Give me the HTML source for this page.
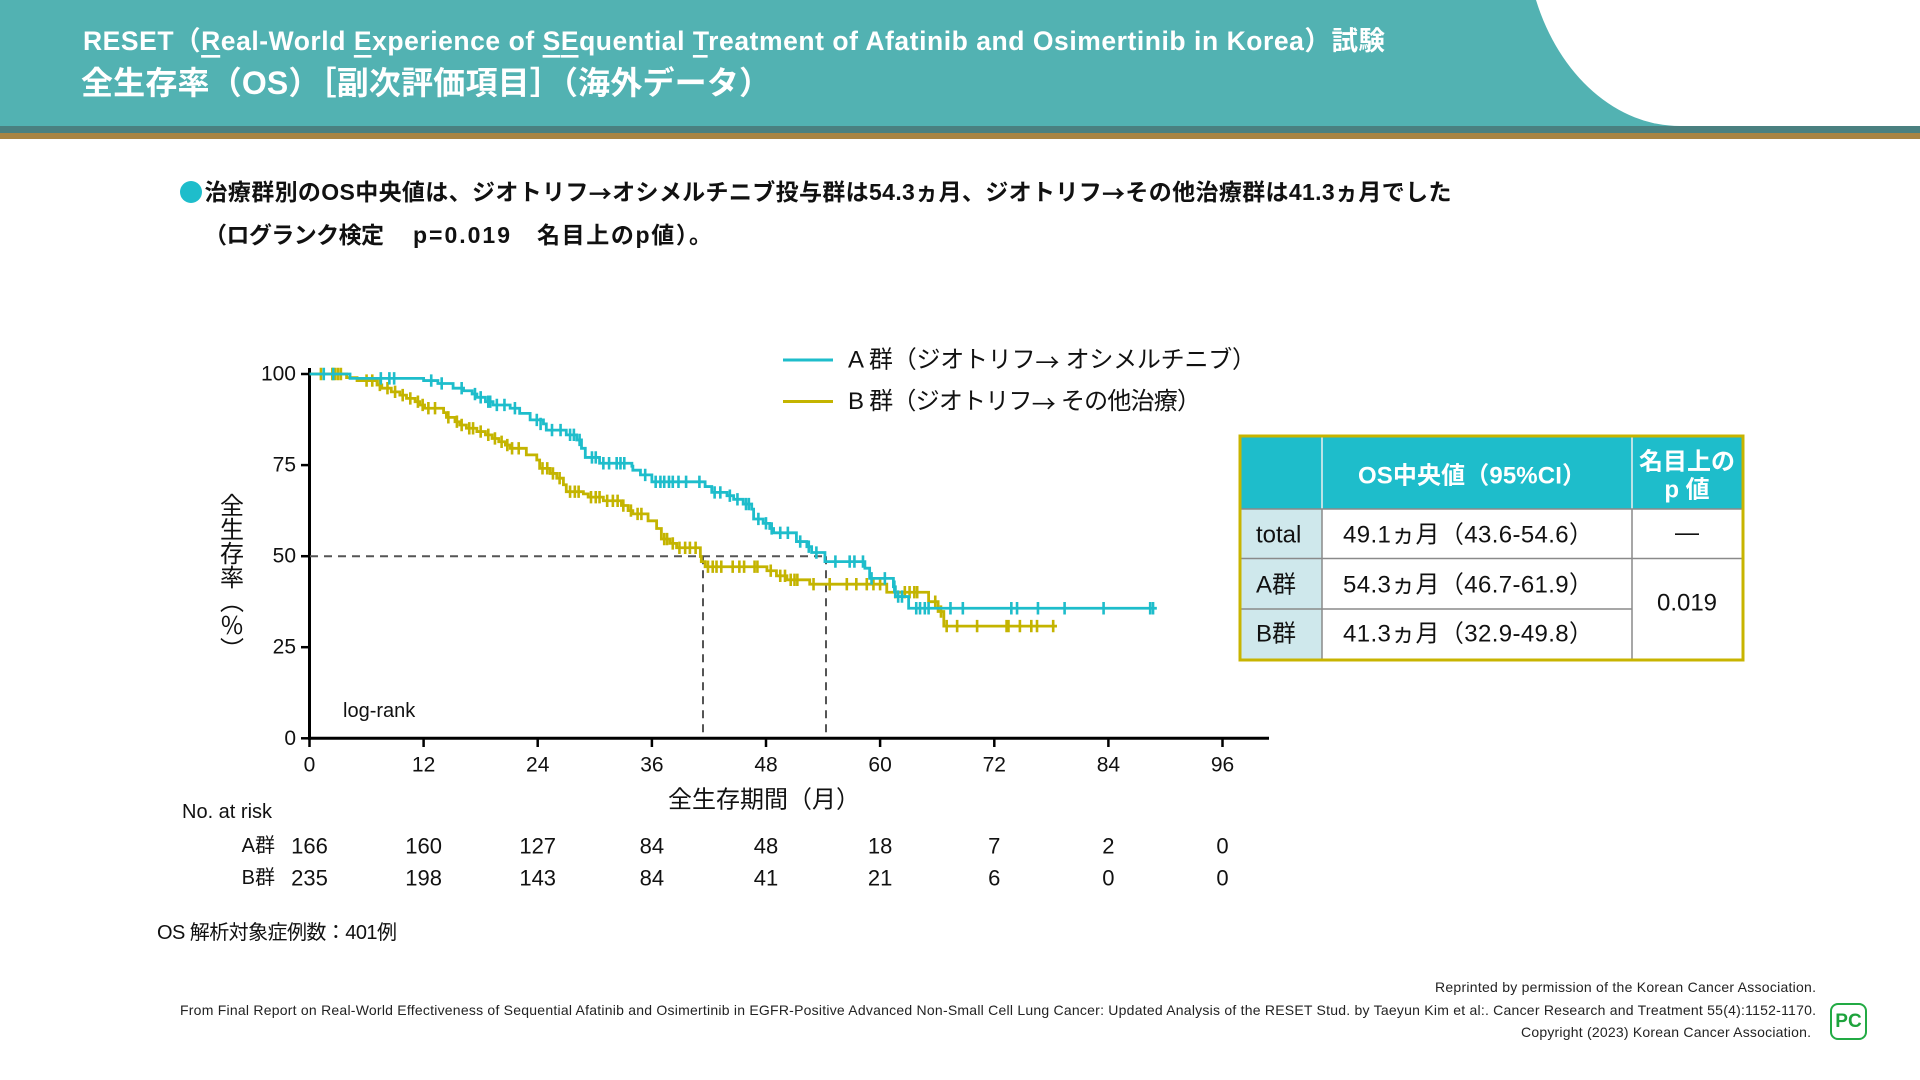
<!DOCTYPE html>
<html><head><meta charset="utf-8"><style>
html,body{margin:0;padding:0;background:#fff;}
svg{display:block;}
text{font-family:"Liberation Sans","Noto Sans CJK JP",sans-serif;}
.cj{font-family:"Noto Sans CJK JP",sans-serif;}
</style></head><body>
<svg width="1920" height="1080" viewBox="0 0 1920 1080" xmlns="http://www.w3.org/2000/svg">
<rect width="1920" height="1080" fill="#fff"/>
<!-- header -->
<rect x="0" y="0" width="1920" height="127" fill="#52B2B2"/>
<path d="M1536,0 A155,200 0 0,0 1680,126 L1920,126 L1920,0 Z" fill="#fff"/>
<rect x="0" y="126" width="1920" height="7" fill="#4A8080"/>
<rect x="0" y="133" width="1920" height="6" fill="#A98443"/>
<text x="83" y="41" font-size="26.5" font-weight="bold" fill="#fff" dominant-baseline="central" textLength="1302" lengthAdjust="spacing">RESET（<tspan style="text-decoration:underline">R</tspan>eal-World <tspan style="text-decoration:underline">E</tspan>xperience of <tspan style="text-decoration:underline">SE</tspan>quential <tspan style="text-decoration:underline">T</tspan>reatment of Afatinib and Osimertinib in Korea）試験</text>
<text x="81" y="83" font-size="32" font-weight="bold" fill="#fff" dominant-baseline="central" textLength="690" lengthAdjust="spacing">全生存率（OS）［副次評価項目］（海外データ）</text>

<!-- bullet text -->
<circle cx="191" cy="192" r="11" fill="#1EBDCB"/>
<text x="204.5" y="192" font-size="23" font-weight="bold" fill="#111" dominant-baseline="central" textLength="1247" lengthAdjust="spacing">治療群別のOS中央値は、ジオトリフ<tspan class="cj">→</tspan>オシメルチニブ投与群は54.3ヵ月、ジオトリフ<tspan class="cj">→</tspan>その他治療群は41.3ヵ月でした</text>
<text x="204" y="235" font-size="23" font-weight="bold" fill="#111" dominant-baseline="central" textLength="180" lengthAdjust="spacing">（ログランク検定</text>
<text x="413" y="235" font-size="23" font-weight="bold" fill="#111" dominant-baseline="central" textLength="97" lengthAdjust="spacing">p=0.019</text>
<text x="537" y="235" font-size="23" font-weight="bold" fill="#111" dominant-baseline="central" textLength="175" lengthAdjust="spacing">名目上のp値）。</text>

<!-- legend -->
<line x1="783" y1="360" x2="833" y2="360" stroke="#1EBDCB" stroke-width="3"/>
<line x1="783" y1="401.5" x2="833" y2="401.5" stroke="#C4B400" stroke-width="3"/>
<text x="848" y="360" font-size="24" fill="#111" dominant-baseline="central" textLength="408" lengthAdjust="spacing">A 群（ジオトリフ<tspan class="cj">→</tspan> オシメルチニブ）</text>
<text x="848" y="401.5" font-size="24" fill="#111" dominant-baseline="central" textLength="353" lengthAdjust="spacing">B 群（ジオトリフ<tspan class="cj">→</tspan> その他治療）</text>

<!-- axes -->
<g stroke="#000" stroke-width="2.5">
<line x1="301" y1="374" x2="309.5" y2="374"/>
<line x1="301" y1="465.1" x2="309.5" y2="465.1"/>
<line x1="301" y1="556.2" x2="309.5" y2="556.2"/>
<line x1="301" y1="647.2" x2="309.5" y2="647.2"/>
<line x1="301" y1="738.3" x2="309.5" y2="738.3"/>
<line x1="309.5" y1="738" x2="309.5" y2="747"/>
<line x1="423.6" y1="738" x2="423.6" y2="747"/>
<line x1="537.7" y1="738" x2="537.7" y2="747"/>
<line x1="651.9" y1="738" x2="651.9" y2="747"/>
<line x1="766" y1="738" x2="766" y2="747"/>
<line x1="880.1" y1="738" x2="880.1" y2="747"/>
<line x1="994.3" y1="738" x2="994.3" y2="747"/>
<line x1="1108.4" y1="738" x2="1108.4" y2="747"/>
<line x1="1222.5" y1="738" x2="1222.5" y2="747"/>
</g>
<line x1="309.5" y1="368" x2="309.5" y2="739.8" stroke="#000" stroke-width="3"/>
<line x1="308" y1="738.3" x2="1269" y2="738.3" stroke="#000" stroke-width="3"/>

<g font-size="21" fill="#111" text-anchor="end" dominant-baseline="central">
<text x="296" y="374">100</text>
<text x="296" y="465.1">75</text>
<text x="296" y="556.2">50</text>
<text x="296" y="647.2">25</text>
<text x="296" y="738.3">0</text>
</g>
<g font-size="21" fill="#111" text-anchor="middle" dominant-baseline="central">
<text x="309.5" y="765">0</text>
<text x="423.6" y="765">12</text>
<text x="537.7" y="765">24</text>
<text x="651.9" y="765">36</text>
<text x="766" y="765">48</text>
<text x="880.1" y="765">60</text>
<text x="994.3" y="765">72</text>
<text x="1108.4" y="765">84</text>
<text x="1222.5" y="765">96</text>
</g>
<text x="668" y="800" font-size="24" fill="#111" dominant-baseline="central" textLength="192" lengthAdjust="spacing">全生存期間（月）</text>
<text x="229" y="493" font-size="24" fill="#111" style="writing-mode:vertical-rl">全生存率（％）</text>
<text x="343" y="711" font-size="20" fill="#111" dominant-baseline="central">log-rank</text>

<!-- dashed median lines -->
<g stroke="#555" stroke-width="2" stroke-dasharray="8,6" fill="none">
<line x1="310" y1="556.2" x2="826" y2="556.2"/>
<line x1="703" y1="556.2" x2="703" y2="737"/>
<line x1="826" y1="556.2" x2="826" y2="737"/>
</g>

<!-- curves in data coords -->
<g transform="translate(309.5,738.3) scale(9.51,-3.643)" fill="none">
<path vector-effect="non-scaling-stroke" stroke="#C4B400" stroke-width="2.8" d="M0,100 H3.9 V99.0 H5.0 V98.2 H7.1 V97.0 H7.6 V96.1 H8.6 V95.1 H9.5 V94.2 H10.2 V93.3 H11.1 V92.4 H11.6 V91.5 H12.1 V90.6 H14.1 V89.4 H14.4 V88.1 H15.3 V86.9 H15.8 V86.0 H16.5 V85.1 H17.6 V84.2 H18.5 V83.3 H19.2 V82.3 H19.9 V81.4 H20.6 V80.5 H21.1 V79.6 H22.8 V77.8 H23.9 V76.4 H24.2 V74.1 H25.3 V72.7 H26.0 V71.4 H26.7 V69.6 H27.0 V67.7 H28.8 V67.1 H29.3 V66.2 H30.9 V65.2 H32.8 V63.9 H33.5 V62.5 H34.0 V61.6 H35.6 V59.7 H36.5 V57.6 H37.0 V54.7 H37.9 V53.5 H38.6 V52.3 H41.1 V49.9 H41.2 V48.5 H41.6 V47.1 H48.1 V46.0 H49.1 V44.6 H50.2 V43.5 H52.6 V42.3 H60.7 V40.1 H65.1 V37.5 H66.1 V34.8 H66.7 V30.8 H78.6"/>
<path vector-effect="non-scaling-stroke" stroke="#C4B400" stroke-width="2.6" d="M1.2,100v1.7v-3.4M2.4,100v1.7v-3.4M2.7,100v1.7v-3.4M3.0,100v1.7v-3.4M3.3,100v1.7v-3.4M6.0,98.2v1.7v-3.4M6.6,98.2v1.7v-3.4M7.4,97v1.7v-3.4M8.2,96.1v1.7v-3.4M9.0,95.1v1.7v-3.4M9.8,94.2v1.7v-3.4M10.6,93.3v1.7v-3.4M11.4,92.4v1.7v-3.4M11.9,91.5v1.7v-3.4M12.5,90.6v1.7v-3.4M13.2,90.6v1.7v-3.4M14.6,88.1v1.7v-3.4M15.5,86.9v1.7v-3.4M16.0,86v1.7v-3.4M16.8,85.1v1.7v-3.4M17.2,85.1v1.7v-3.4M18.0,84.2v1.7v-3.4M18.8,83.3v1.7v-3.4M19.5,82.3v1.7v-3.4M20.2,81.4v1.7v-3.4M20.8,80.5v1.7v-3.4M21.3,79.6v1.7v-3.4M22.0,79.6v1.7v-3.4M24.5,74.1v1.7v-3.4M25.0,74.1v1.7v-3.4M25.6,72.7v1.7v-3.4M26.3,71.4v1.7v-3.4M27.4,67.7v1.7v-3.4M27.9,67.7v1.7v-3.4M28.3,67.7v1.7v-3.4M29.6,66.2v1.7v-3.4M30.1,66.2v1.7v-3.4M30.5,66.2v1.7v-3.4M31.3,65.2v1.7v-3.4M31.9,65.2v1.7v-3.4M32.4,65.2v1.7v-3.4M33.0,63.9v1.7v-3.4M33.8,62.5v1.7v-3.4M34.5,61.6v1.7v-3.4M34.9,61.6v1.7v-3.4M37.3,54.7v1.7v-3.4M37.6,54.7v1.7v-3.4M38.2,53.5v1.7v-3.4M38.9,52.3v1.7v-3.4M39.5,52.3v1.7v-3.4M40.0,52.3v1.7v-3.4M40.6,52.3v1.7v-3.4M41.9,47.1v1.7v-3.4M42.4,47.1v1.7v-3.4M42.8,47.1v1.7v-3.4M43.3,47.1v1.7v-3.4M44.5,47.1v1.7v-3.4M45.2,47.1v1.7v-3.4M45.7,47.1v1.7v-3.4M46.8,47.1v1.7v-3.4M47.1,47.1v1.7v-3.4M48.5,46v1.7v-3.4M49.5,44.6v1.7v-3.4M50.0,44.6v1.7v-3.4M50.6,43.5v1.7v-3.4M51.0,43.5v1.7v-3.4M51.3,43.5v1.7v-3.4M53.0,42.3v1.7v-3.4M54.7,42.3v1.7v-3.4M56.5,42.3v1.7v-3.4M57.5,42.3v1.7v-3.4M58.6,42.3v1.7v-3.4M59.3,42.3v1.7v-3.4M60.0,42.3v1.7v-3.4M61.6,40.1v1.7v-3.4M62.6,40.1v1.7v-3.4M63.1,40.1v1.7v-3.4M63.6,40.1v1.7v-3.4M63.9,40.1v1.7v-3.4M65.8,37.5v1.7v-3.4M66.4,34.8v1.7v-3.4M67.0,30.8v1.7v-3.4M68.1,30.8v1.7v-3.4M70.2,30.8v1.7v-3.4M73.3,30.8v1.7v-3.4M73.5,30.8v1.7v-3.4M74.7,30.8v1.7v-3.4M75.9,30.8v1.7v-3.4M76.5,30.8v1.7v-3.4M78.2,30.8v1.7v-3.4"/>
<path vector-effect="non-scaling-stroke" stroke="#1EBDCB" stroke-width="2.8" d="M0,100 H4.26 V98.8 H12.0 V98.2 H13.5 V97.4 H15.1 V96.1 H16.2 V95.4 H17.1 V94.5 H17.6 V93.6 H18.5 V92.4 H19.3 V91.5 H21.1 V90.6 H22.1 V89.2 H23.2 V87.4 H24.6 V86.3 H24.9 V84.6 H27.0 V83.3 H28.1 V81.9 H28.6 V79.6 H29.0 V77.1 H30.5 V75.5 H33.9 V74.7 H34.0 V73.6 H34.8 V72.3 H36.0 V70.4 H41.6 V69.1 H42.3 V67.5 H43.9 V66.6 H44.6 V65.6 H45.6 V64.3 H46.5 V62.9 H46.7 V60.2 H47.7 V59.0 H48.4 V57.6 H48.8 V56.4 H51.2 V54.0 H52.3 V52.6 H52.8 V51.0 H54.2 V48.5 H58.4 V46.7 H58.9 V43.9 H61.4 V41.6 H61.6 V38.9 H63.0 V35.7 H89.1"/>
<path vector-effect="non-scaling-stroke" stroke="#1EBDCB" stroke-width="2.6" d="M1.5,100v1.7v-3.4M2.5,100v1.7v-3.4M7.5,98.8v1.7v-3.4M8.4,98.8v1.7v-3.4M8.9,98.8v1.7v-3.4M12.8,98.2v1.7v-3.4M13.9,97.4v1.7v-3.4M16.0,96.1v1.7v-3.4M17.4,94.5v1.7v-3.4M18.0,93.6v1.7v-3.4M18.8,92.4v1.7v-3.4M19.0,92.4v1.7v-3.4M19.7,91.5v1.7v-3.4M20.5,91.5v1.7v-3.4M21.6,90.6v1.7v-3.4M23.9,87.4v1.7v-3.4M24.3,86.3v1.7v-3.4M25.5,84.6v1.7v-3.4M26.4,84.6v1.7v-3.4M27.4,83.3v1.7v-3.4M27.8,83.3v1.7v-3.4M28.4,81.9v1.7v-3.4M29.7,77.1v1.7v-3.4M30.1,77.1v1.7v-3.4M30.9,75.5v1.7v-3.4M31.5,75.5v1.7v-3.4M32.3,75.5v1.7v-3.4M32.7,75.5v1.7v-3.4M33.1,75.5v1.7v-3.4M35.3,72.3v1.7v-3.4M36.4,70.4v1.7v-3.4M36.9,70.4v1.7v-3.4M37.3,70.4v1.7v-3.4M37.8,70.4v1.7v-3.4M38.2,70.4v1.7v-3.4M38.8,70.4v1.7v-3.4M39.6,70.4v1.7v-3.4M41.0,70.4v1.7v-3.4M42.6,67.5v1.7v-3.4M43.2,67.5v1.7v-3.4M44.2,66.6v1.7v-3.4M45.0,65.6v1.7v-3.4M45.9,64.3v1.7v-3.4M46.2,64.3v1.7v-3.4M47.2,60.2v1.7v-3.4M48.0,59v1.7v-3.4M48.6,57.6v1.7v-3.4M49.5,56.4v1.7v-3.4M50.3,56.4v1.7v-3.4M51.6,54v1.7v-3.4M52.5,52.6v1.7v-3.4M53.3,51v1.7v-3.4M55.3,48.5v1.7v-3.4M56.8,48.5v1.7v-3.4M57.3,48.5v1.7v-3.4M58.2,48.5v1.7v-3.4M59.1,43.9v1.7v-3.4M60.5,43.9v1.7v-3.4M61.5,41.6v1.7v-3.4M61.9,38.9v1.7v-3.4M62.3,38.9v1.7v-3.4M63.8,35.7v1.7v-3.4M64.2,35.7v1.7v-3.4M64.7,35.7v1.7v-3.4M65.1,35.7v1.7v-3.4M67.4,35.7v1.7v-3.4M68.7,35.7v1.7v-3.4M73.8,35.7v1.7v-3.4M74.4,35.7v1.7v-3.4M76.6,35.7v1.7v-3.4M79.4,35.7v1.7v-3.4M83.5,35.7v1.7v-3.4M88.4,35.7v1.7v-3.4M88.7,35.7v1.7v-3.4"/>
</g>

<!-- at risk -->
<text x="182" y="812" font-size="20" fill="#111" dominant-baseline="central">No. at risk</text>
<text x="275" y="846" font-size="20" fill="#111" text-anchor="end" dominant-baseline="central">A群</text>
<text x="275" y="878" font-size="20" fill="#111" text-anchor="end" dominant-baseline="central">B群</text>
<g font-size="22" fill="#111" text-anchor="middle" dominant-baseline="central">
<text x="309.5" y="846">166</text><text x="423.6" y="846">160</text><text x="537.7" y="846">127</text><text x="651.9" y="846">84</text><text x="766" y="846">48</text><text x="880.1" y="846">18</text><text x="994.3" y="846">7</text><text x="1108.4" y="846">2</text><text x="1222.5" y="846">0</text>
<text x="309.5" y="878">235</text><text x="423.6" y="878">198</text><text x="537.7" y="878">143</text><text x="651.9" y="878">84</text><text x="766" y="878">41</text><text x="880.1" y="878">21</text><text x="994.3" y="878">6</text><text x="1108.4" y="878">0</text><text x="1222.5" y="878">0</text>
</g>
<text x="157" y="933" font-size="20" fill="#111" dominant-baseline="central" textLength="240" lengthAdjust="spacing">OS 解析対象症例数：401例</text>

<!-- table -->
<rect x="1240" y="436" width="503" height="73" fill="#1EBDCB"/>
<rect x="1240" y="509" width="82" height="151" fill="#CFE8EC"/>
<g stroke="#eee" stroke-width="1.5">
<line x1="1322" y1="436" x2="1322" y2="509"/>
<line x1="1632" y1="436" x2="1632" y2="509"/>
</g>
<g stroke="#8a8a8a" stroke-width="1.5">
<line x1="1322" y1="509" x2="1322" y2="660"/>
<line x1="1632" y1="509" x2="1632" y2="660"/>
<line x1="1240" y1="509" x2="1743" y2="509"/>
<line x1="1240" y1="558.5" x2="1743" y2="558.5"/>
<line x1="1240" y1="609" x2="1632" y2="609"/>
</g>
<rect x="1240" y="436" width="503" height="224" fill="none" stroke="#C8B400" stroke-width="3"/>
<text x="1358" y="476" font-size="24" font-weight="bold" fill="#fff" dominant-baseline="central" textLength="228" lengthAdjust="spacing">OS中央値（95%CI）</text>
<text x="1687" y="462" font-size="24" font-weight="bold" fill="#fff" text-anchor="middle" dominant-baseline="central">名目上の</text>
<text x="1687" y="490" font-size="24" font-weight="bold" fill="#fff" text-anchor="middle" dominant-baseline="central">p 値</text>
<g font-size="24" fill="#111" dominant-baseline="central">
<text x="1256" y="535">total</text>
<text x="1256" y="585">A群</text>
<text x="1256" y="634">B群</text>
<text x="1343" y="535" textLength="250" lengthAdjust="spacing">49.1ヵ月（43.6-54.6）</text>
<text x="1343" y="585" textLength="250" lengthAdjust="spacing">54.3ヵ月（46.7-61.9）</text>
<text x="1343" y="634" textLength="250" lengthAdjust="spacing">41.3ヵ月（32.9-49.8）</text>
<text x="1687" y="533" text-anchor="middle">—</text>
<text x="1687" y="603" text-anchor="middle">0.019</text>
</g>

<!-- footer -->
<g font-size="14" fill="#222" dominant-baseline="central">
<text x="1435" y="987" textLength="381" lengthAdjust="spacing">Reprinted by permission of the Korean Cancer Association.</text>
<text x="180" y="1010" textLength="1636" lengthAdjust="spacing">From Final Report on Real-World Effectiveness of Sequential Afatinib and Osimertinib in EGFR-Positive Advanced Non-Small Cell Lung Cancer: Updated Analysis of the RESET Stud. by Taeyun Kim et al:. Cancer Research and Treatment 55(4):1152-1170.</text>
<text x="1521" y="1032" textLength="290" lengthAdjust="spacing">Copyright (2023) Korean Cancer Association.</text>
</g>
<rect x="1831" y="1004" width="35" height="35" rx="7" fill="#fff" stroke="#22AA44" stroke-width="2"/>
<text x="1848.5" y="1021.5" font-size="19" font-weight="bold" fill="#1DA33C" text-anchor="middle" dominant-baseline="central">PC</text>
</svg>
</body></html>
